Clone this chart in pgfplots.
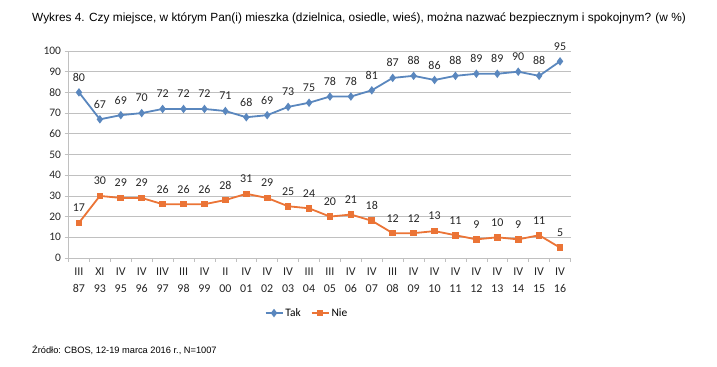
\documentclass[border=0pt]{standalone}
\usepackage{pgfplots}
\pgfplotsset{compat=1.18}
\usepackage{fontspec}
\setmainfont{Liberation Sans}
\newfontfamily\calib{Carlito}
\definecolor{tak}{HTML}{5A87BE}
\definecolor{nie}{HTML}{EB7436}
\definecolor{gridc}{HTML}{C0C0C0}
\begin{document}
\begin{tikzpicture}
\useasboundingbox (0bp,0bp) rectangle (717bp,367bp);
\node[anchor=west, inner sep=0, font=\fontsize{11.9}{14}\selectfont] at (32bp,349bp) {Wykres 4. Czy miejsce, w którym Pan(i) mieszka (dzielnica, osiedle, wieś), można nazwać bezpiecznym i spokojnym? (w \%)};
\node[anchor=west, inner sep=0, font=\fontsize{9.3}{11}\selectfont] at (32bp,17bp) {Źródło: CBOS, 12-19 marca 2016 r., N=1007};
\begin{axis}[
  at={(68.5bp,109bp)}, anchor=south west,
  scale only axis, width=502bp, height=207bp,
  xmin=-0.5, xmax=23.5, ymin=0, ymax=100,
  clip=false,
  axis lines*=left,
  axis line style={gridc, line width=0.6bp},
  ytick={0,10,...,100},
  ymajorgrids, grid style={gridc, line width=0.6bp},
  xtick={0,...,23},
  xticklabels={{III\\87},{XI\\93},{IV\\95},{IV\\96},{IIV\\97},{III\\98},{IV\\99},{II\\00},{IV\\01},{IV\\02},{IV\\03},{III\\04},{III\\05},{IV\\06},{IV\\07},{III\\08},{IV\\09},{IV\\10},{IV\\11},{IV\\12},{IV\\13},{IV\\14},{IV\\15},{IV\\16}},
  major x tick style={draw=none},
  minor xtick={-0.5,0.5,...,23.5},
  minor x tick style={gridc, line width=0.6bp},
  minor tick length=4bp,
  major y tick style={gridc, line width=0.6bp},
  major tick length=4bp,
  tick align=outside,
  xticklabel style={align=center, font=\calib\fontsize{12}{17}\selectfont, text=black!85, yshift=-2bp},
  yticklabel style={font=\calib\fontsize{11.5}{13}\selectfont, text=black!85},
  /pgf/number format/assume math mode=true,
  legend columns=2,
  legend style={at={(0.475,-0.266)}, anchor=center, draw=none, font=\calib\fontsize{11.5}{13}\selectfont, /tikz/every even column/.append style={column sep=8bp}},
  nodes near coords,
  every node near coord/.append style={font=\calib\fontsize{12}{14}\selectfont, text=black!85, anchor=center, yshift=15bp},
]
\addplot[color=tak, line width=1.8bp, mark=diamond*, mark size=2.8bp, mark options={fill=tak}] coordinates {
(0,80) (1,67) (2,69) (3,70) (4,72) (5,72) (6,72) (7,71) (8,68) (9,69) (10,73) (11,75) (12,78) (13,78) (14,81) (15,87) (16,88) (17,86) (18,88) (19,89) (20,89) (21,90) (22,88) (23,95)};
\addlegendentry{Tak}
\addplot[color=nie, line width=1.8bp, mark=square*, mark size=2.4bp, mark options={fill=nie}] coordinates {
(0,17) (1,30) (2,29) (3,29) (4,26) (5,26) (6,26) (7,28) (8,31) (9,29) (10,25) (11,24) (12,20) (13,21) (14,18) (15,12) (16,12) (17,13) (18,11) (19,9) (20,10) (21,9) (22,11) (23,5)};
\addlegendentry{Nie}
\end{axis}
\end{tikzpicture}
\end{document}
